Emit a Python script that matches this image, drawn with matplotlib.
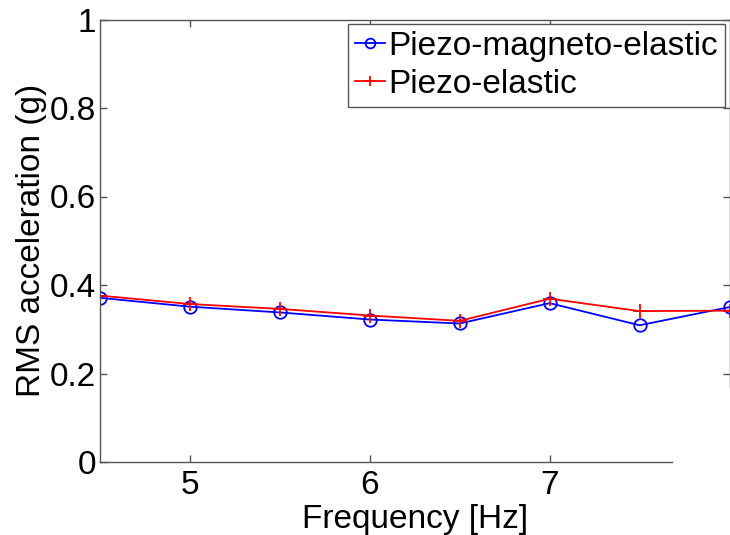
import matplotlib
matplotlib.use('Agg')
import matplotlib.pyplot as plt

plt.rcParams['font.family'] = ['Liberation Sans', 'DejaVu Sans']

freq = [4.5, 5, 5.5, 6, 6.5, 7, 7.5, 8]
pme = [0.371, 0.351, 0.338, 0.322, 0.313, 0.359, 0.309, 0.350]
pe = [0.376, 0.357, 0.346, 0.331, 0.319, 0.369, 0.341, 0.342]
xticks = [5, 6, 7]
yticks = [0, 0.2, 0.4, 0.6, 0.8, 1]
ylabels = ['0', '0.2', '0.4', '0.6', '0.8', '1']

fig = plt.figure(figsize=(7.3, 5.35), dpi=100)
ax = fig.add_axes([100/730, 73/535, 629.5/730, 442.5/535])

ax.plot(freq, pme, color='#0000ff', marker='o', markersize=9, markerfacecolor='none',
        markeredgewidth=1.3, linewidth=1.3, label='Piezo-magneto-elastic')
ax.plot(freq, pe, color='#ff0000', marker='+', markersize=10, markeredgewidth=1.3,
        linewidth=1.3, label='Piezo-elastic')

ax.set_xlim(4.5, 8)
ax.set_ylim(0, 1)
ax.set_xticks(xticks)
ax.set_yticks(yticks)
ax.set_yticklabels(ylabels)
ax.tick_params(direction='in', length=5, width=1, color='#555555', labelsize=24,
               top=True, right=True)
ax.tick_params(axis='y', pad=3)
ax.tick_params(axis='x', pad=6)

for s in ax.spines.values():
    s.set_color('#555555')
    s.set_linewidth(1)
# odd export clipping of the box
ax.spines['bottom'].set_bounds(4.5, 7.68)
ax.spines['right'].set_bounds(0.17, 1)
ax.yaxis.get_major_ticks()[0].tick2line.set_visible(False)

ax.set_xlabel('Frequency [Hz]', fontsize=24, labelpad=2)
ax.set_ylabel('RMS acceleration (g)', fontsize=24, labelpad=2)

leg = ax.legend(loc='upper right', fontsize=24, handlelength=0.9, handletextpad=0.1,
                borderpad=0.2, labelspacing=0.2, borderaxespad=0.15, fancybox=False,
                framealpha=1, edgecolor='#555555')
leg.get_frame().set_linewidth(1)
for h in leg.get_lines():
    h.set_markersize(7)

fig.savefig('out.png', dpi=100)
